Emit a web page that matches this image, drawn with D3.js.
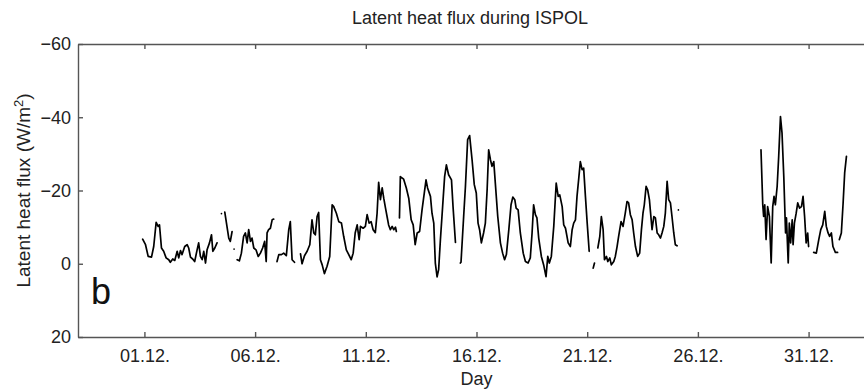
<!DOCTYPE html>
<html lang="en">
<head>
    <meta charset="UTF-8">
    <title>Latent heat flux during ISPOL</title>
    <script src="https://d3js.org/d3.v7.min.js"></script>
    <style>
        body {
            margin: 0;
            background: #fff;
            font-family: "Liberation Sans", Arial, sans-serif;
        }
        .axis path, .axis line { stroke: #555; stroke-width: 1.4; }
        .axis text { font-family: "Liberation Sans", Arial, sans-serif; font-size: 18px; fill: #222; }
    </style>
</head>
<body>
    <div id="chart"></div>

    <script>
        // day of December (32 = 1 Jan), null = no data
        const dayOfDec = [
            0.92,1.05,1.17,1.32,1.42,1.53,1.62,1.68,1.77,1.87,1.98,2.10,2.17,2.28,2.37,2.48,2.55,2.63,2.70,2.82,2.93,3.00,3.08,3.18,3.27,3.38,3.45,3.53,3.61,3.68,3.76,3.83,3.94,4.03,4.09,4.18,4.28,
            4.38, 4.48, 4.55,
            4.63,4.81,4.88,4.96, 5.00, 5.05, 5.12,
            5.19,5.29,5.38,5.48,5.56,5.64,5.71,5.79,5.86,5.94,6.04,6.14,6.24,6.34,6.43,6.50,6.54,6.61,6.69,6.77,6.84, 6.92,
            6.99,7.07,7.19,7.29,7.41,7.52,7.59,7.67,7.78, 7.90,
            8.05,8.12,8.23,8.35,8.47,8.57,8.65,8.72,8.80,8.87,8.95,9.03,9.13,9.25,9.37,9.48,9.55,9.67,9.78,9.90,10.00,10.12,10.23,10.34,10.43,10.52,10.61,10.70,10.76,10.88,10.98,11.06,11.15,11.24,11.33,11.43,11.51,11.58,11.66,11.74,11.81,11.89,11.96,12.03,12.11,12.19,12.26,12.34,12.38, 12.45,
            12.52,12.56,12.64,12.71,12.83,12.94,13.05,13.14,13.23,13.32,13.43,13.54,13.65,13.72,13.79,13.92,13.99,14.07,14.14,14.22,14.29,14.37,14.47,14.56,14.64,14.74,14.87,14.94,15.05, 15.15,
            15.27,15.30,15.42,15.50,15.60,15.69,15.80,15.90,15.99,16.07,16.14,16.22,16.32,16.40,16.48,16.55,16.63,16.70,16.78,16.85,16.96,17.08,17.18,17.27,17.35,17.46,17.56,17.64,17.73,17.79,17.88,17.98,18.11,18.21,18.33,18.43,18.51,18.58,18.66,18.73,18.81,18.93,19.04,19.14,19.22,19.29,19.38,19.49,19.60,19.69,19.76,19.87,19.94,20.02,20.14,20.24,20.32,20.39,20.47,20.54,20.62,20.69,20.77,20.84,20.92,21.00,21.09, 21.18,
            21.27,21.33, 21.40,
            21.48,21.57,21.64,21.72,21.78,21.87,21.93,22.02,22.09,22.20,22.27,22.35,22.42,22.53,22.62,22.72,22.80,22.87,22.95,23.03,23.10,23.18,23.28,23.37,23.45,23.52,23.58,23.66,23.73,23.81,23.89,23.93,24.01,24.08,24.16,24.23,24.31,24.38,24.46,24.53,24.61,24.68,24.76,24.83,24.91,24.98,25.06, 25.09,
            25.12, 25.20,
            28.85,28.93,28.97,29.02,29.08,29.15,29.23,29.31,29.38,29.44,29.50,29.58,29.65,29.73,29.80,29.88,29.96,30.00,30.08,30.13,30.19,30.26,30.30,30.36,30.44,30.51,30.59,30.68,30.75,30.82,30.89,30.96,31.00, 31.10,
            31.23,31.35,31.46,31.55,31.64,31.73,31.80,31.88,31.95,32.03,32.10,32.21,32.31, 32.35,
            32.39,32.48,32.56,32.63,32.71
        ];
        // latent heat flux (W/m2)
        const fluxWm2 = [
            -6.7,-5.2,-2.0,-1.8,-4.7,-11.3,-10.2,-10.6,-4.3,-3.4,-1.6,-1.1,-0.4,-1.3,-0.9,-3.4,-1.6,-3.6,-2.5,-4.7,-5.2,-4.3,-1.8,-1.3,-0.6,-3.8,-5.7,-2.0,-1.1,-3.4,-0.2,-3.8,-5.7,-7.9,-3.4,-4.3,-5.7,
            null, -13.7, null,
            -14.1,-7.0,-6.1,-8.8, null, -4.0, null,
            -1.1,-0.8,-2.9,-7.5,-8.4,-5.7,-9.3,-6.1,-7.0,-4.3,-3.8,-2.0,-2.9,-4.3,-6.1,-0.6,-8.4,-9.3,-9.7,-12.0,-12.2, null,
            -0.6,-2.5,-2.5,-2.9,-2.2,-9.3,-11.5,-1.1,-0.4, null,
            -2.7,0.0,-2.2,-3.4,-5.2,-12.0,-8.4,-7.9,-12.9,-14.0,-1.1,0.3,2.7,0.7,-2.0,-16.1,-15.6,-13.8,-11.5,-11.1,-7.5,-3.8,-2.5,-1.1,-2.9,-8.4,-10.6,-6.6,-10.2,-9.7,-10.2,-13.4,-11.1,-11.5,-9.3,-8.5,-13.8,-22.2,-17.5,-20.7,-17.9,-15.2,-12.9,-10.6,-9.3,-10.2,-9.3,-10.0,-8.8, null,
            -12.5,-23.8,-23.4,-23.1,-20.7,-17.9,-12.0,-10.6,-5.2,-8.4,-8.8,-14.7,-19.7,-22.9,-20.7,-18.4,-13.8,-11.1,-0.2,3.6,1.6,-6.6,-15.6,-23.8,-27.0,-24.3,-22.9,-15.6,-5.8, null,
            -0.2,-0.4,-12.9,-21.1,-33.9,-35.0,-28.4,-21.6,-19.3,-11.1,-9.3,-5.7,-8.4,-11.1,-20.2,-31.1,-28.4,-26.6,-27.9,-22.0,-12.9,-5.7,-2.9,-1.1,-2.5,-9.3,-16.1,-18.2,-17.5,-15.2,-14.7,-8.4,-2.9,-0.6,-0.2,-1.6,-8.4,-16.1,-13.4,-12.5,-7.0,-2.0,0.5,3.5,-2.0,-0.2,-2.0,-10.2,-22.0,-18.4,-18.8,-15.6,-10.6,-9.7,-5.7,-4.7,-9.3,-11.1,-12.0,-18.4,-23.4,-27.9,-25.7,-26.1,-18.4,-11.1,-3.4, null,
            1.2,-0.2, null,
            -4.3,-7.5,-12.9,-9.3,-1.1,-2.0,-0.6,-1.6,0.3,-0.6,-2.0,-4.7,-7.5,-11.5,-10.2,-13.8,-17.0,-16.6,-13.4,-12.0,-8.4,-4.7,-2.0,-2.9,-9.3,-13.8,-16.1,-21.1,-20.2,-17.5,-12.0,-9.3,-12.9,-12.5,-8.4,-7.9,-7.0,-8.4,-10.2,-13.8,-22.5,-17.5,-16.6,-12.9,-8.4,-5.2,-4.9, null,
            -14.7, null,
            -31.1,-16.1,-12.9,-16.1,-6.6,-15.6,-12.9,-0.2,-15.6,-18.4,-16.1,-21.1,-29.3,-40.2,-35.7,-23.8,-8.4,-12.5,-0.2,-11.1,-5.7,-12.0,-5.2,-11.1,-13.8,-16.6,-15.2,-15.6,-18.4,-12.9,-5.7,-8.4,-4.7, null,
            -3.1,-2.9,-6.6,-9.3,-10.6,-14.3,-10.2,-8.4,-7.5,-8.4,-4.7,-3.1,-3.1, null,
            -6.6,-8.4,-16.6,-24.8,-29.3
        ];

        const tickDays = [1, 6, 11, 16, 21, 26, 31];
        const tickDayLabels = ["01.12.", "06.12.", "11.12.", "16.12.", "21.12.", "26.12.", "31.12."];
        const fluxTicks = [-60, -40, -20, 0, 20];

        const width = 864, height = 390;
        const margin = {top: 44, left: 78};
        const plotW = 797, plotH = 293;

        const svg = d3.select("#chart").append("svg")
            .attr("width", width)
            .attr("height", height);

        const x = d3.scaleLinear().domain([-2, 34]).range([margin.left, margin.left + plotW]);
        const y = d3.scaleLinear().domain([-60, 20]).range([margin.top, margin.top + plotH]);

        const data = dayOfDec.map((d, i) => ({day: d, flux: fluxWm2[i]}));

        // axes (ticks point inward)
        svg.append("g").attr("class", "axis")
            .attr("transform", `translate(0,${margin.top + plotH})`)
            .call(d3.axisBottom(x).tickValues(tickDays).tickFormat((d, i) => tickDayLabels[i])
                .tickSizeInner(-5).tickSizeOuter(0).tickPadding(12));

        svg.append("g").attr("class", "axis")
            .attr("transform", `translate(0,${margin.top})`)
            .call(d3.axisTop(x).tickValues(tickDays).tickFormat("")
                .tickSizeInner(-5).tickSizeOuter(0));

        svg.append("g").attr("class", "axis")
            .attr("transform", `translate(${margin.left},0)`)
            .call(d3.axisLeft(y).tickValues(fluxTicks).tickFormat(d3.format("d"))
                .tickSizeInner(-5).tickSizeOuter(0).tickPadding(7));

        // the series
        const line = d3.line()
            .defined(d => d.flux !== null)
            .x(d => x(d.day))
            .y(d => y(d.flux));

        svg.append("path")
            .datum(data)
            .attr("fill", "none")
            .attr("stroke", "#000")
            .attr("stroke-width", 1.7)
            .attr("stroke-linejoin", "round")
            .attr("stroke-linecap", "round")
            .attr("d", line);

        // labels
        svg.append("text")
            .attr("x", 470).attr("y", 24)
            .attr("text-anchor", "middle")
            .style("font-size", "18px").style("fill", "#222")
            .text("Latent heat flux during ISPOL");

        svg.append("text")
            .attr("x", x(16)).attr("y", 385)
            .attr("text-anchor", "middle")
            .style("font-size", "18px").style("fill", "#222")
            .text("Day");

        const yl = svg.append("text")
            .attr("transform", `translate(30,${margin.top + plotH / 2}) rotate(-90)`)
            .attr("text-anchor", "middle")
            .style("font-size", "19px").style("fill", "#222");
        yl.append("tspan").text("Latent heat flux (W/m");
        yl.append("tspan").attr("dy", -7).style("font-size", "13px").text("2");
        yl.append("tspan").attr("dy", 7).text(")");

        svg.append("text")
            .attr("x", 91).attr("y", 304)
            .style("font-size", "36px").style("fill", "#111")
            .text("b");
    </script>
</body>
</html>
